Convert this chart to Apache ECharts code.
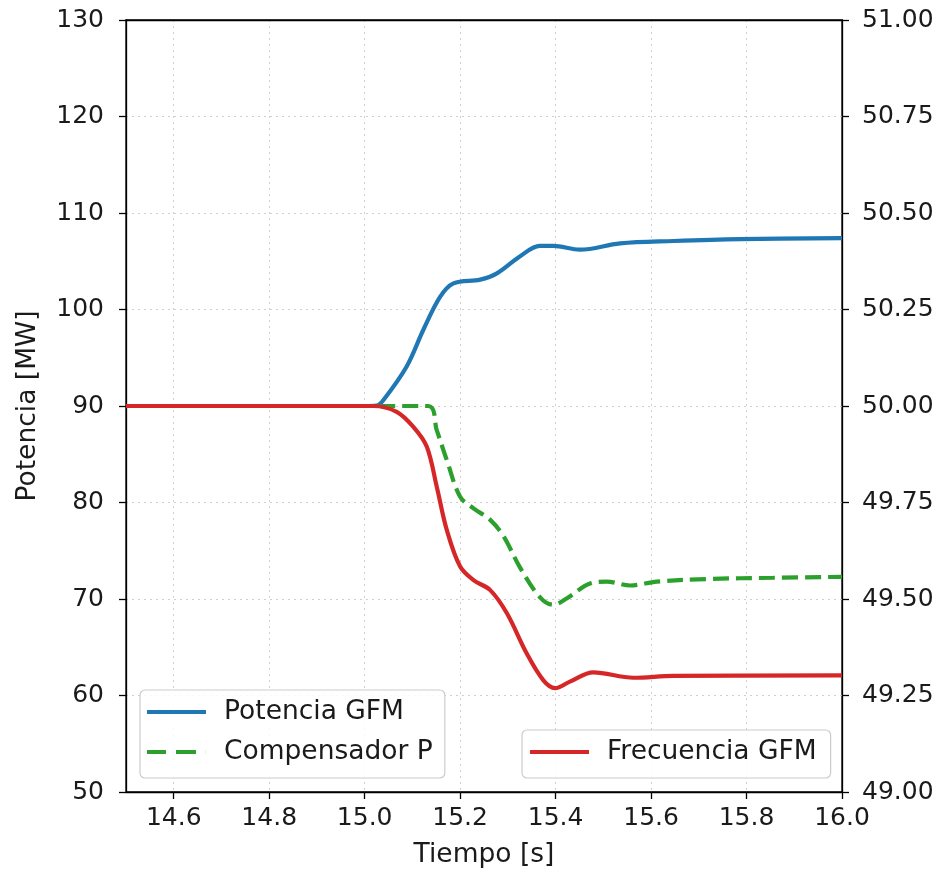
<!DOCTYPE html>
<html>
<head>
<meta charset="utf-8">
<script src="https://cdn.jsdelivr.net/npm/echarts@6/dist/echarts.min.js"></script>
<style>
html,body{margin:0;padding:0;background:#fff;}
#chart{width:943px;height:874px;}
</style>
</head>
<body>
<div id="chart"></div>
<script>
// ---- data ----
const xTicks = [14.6, 14.8, 15.0, 15.2, 15.4, 15.6, 15.8, 16.0];

const potenciaT = [14.5, 15.0, 15.025, 15.039, 15.088, 15.123, 15.158, 15.186, 15.242, 15.277, 15.325, 15.367, 15.395, 15.451, 15.535, 15.647, 15.786, 16.0];
const potenciaV = [90, 90, 90.05, 90.6, 94.1, 97.9, 101.3, 102.7, 103.1, 103.75, 105.5, 106.6, 106.6, 106.2, 106.85, 107.1, 107.3, 107.4];

const compT = [14.5, 15.133, 15.151, 15.172, 15.2, 15.228, 15.263, 15.291, 15.325, 15.367, 15.395, 15.423, 15.472, 15.507, 15.556, 15.612, 15.717, 15.856, 16.0];
const compV = [90, 90, 87.5, 84.4, 80.6, 79.4, 78.2, 76.5, 73.3, 70.2, 69.4, 70.05, 71.6, 71.8, 71.4, 71.8, 72.07, 72.2, 72.3];

const freqT = [14.5, 15.0, 15.018, 15.067, 15.102, 15.13, 15.151, 15.172, 15.2, 15.228, 15.263, 15.298, 15.339, 15.374, 15.399, 15.43, 15.479, 15.563, 15.647, 16.0];
const freqV = [50, 50, 50.0, 49.985, 49.946, 49.895, 49.791, 49.679, 49.584, 49.549, 49.523, 49.463, 49.36, 49.29, 49.269, 49.286, 49.31, 49.296, 49.301, 49.302];

const zip = (a, b) => a.map((t, i) => [t, b[i]]);

const FONT = 'DejaVu Sans';
const TXT = '#1a1a1a';
const LW = 4.2;
const SOLID_ICON = 'path://M0,0 H59 V4 H0 Z';
const DASH_ICON = 'path://M0,0 H19 V4 H0 Z M29,0 H49 V4 H29 Z M58.9,0 H59 V4 H58.9 Z';
const chart = echarts.init(document.getElementById('chart'), null, {renderer: 'canvas'});

const legendCommon = {
  orient: 'vertical',
  itemWidth: 59,
  itemHeight: 4.2,
  itemGap: 12,
  backgroundColor: 'rgba(255,255,255,0.85)',
  borderColor: '#cccccc',
  borderWidth: 1.2,
  borderRadius: 5,
  textStyle: {fontFamily: FONT, fontSize: 26.5, color: TXT, lineHeight: 28, padding: [0, 0, 0, 13]}
};

chart.setOption({
  animation: false,
  backgroundColor: '#ffffff',
  grid: {left: 126, right: 101, top: 20, bottom: 82, show: true, borderColor: '#000', borderWidth: 1.3, backgroundColor: 'transparent'},
  legend: [
    Object.assign({}, legendCommon, {
      data: [{name: 'Potencia GFM', icon: SOLID_ICON}, {name: 'Compensador P', icon: DASH_ICON}],
      left: 140, top: 690, padding: [8, 12, 12, 7]
    }),
    Object.assign({}, legendCommon, {
      data: [{name: 'Frecuencia GFM', icon: SOLID_ICON}],
      left: 522, top: 730, padding: [8, 14, 12, 8]
    })
  ],
  xAxis: [
    {
      type: 'value', min: 14.5, max: 16.0,
      name: 'Tiempo [s]', nameLocation: 'middle', nameGap: 50,
      nameTextStyle: {fontFamily: FONT, fontSize: 26.5, color: TXT},
      axisLine: {show: true, lineStyle: {color: '#000', width: 1.3}},
      axisTick: {show: true, inside: false, length: 7, customValues: xTicks, lineStyle: {color: '#000', width: 1.3}},
      axisLabel: {customValues: xTicks, margin: 14, fontFamily: FONT, fontSize: 25, color: TXT, formatter: v => v.toFixed(1)},
      splitLine: {show: true, lineStyle: {color: '#d0d0d0', type: [2, 4], width: 1}}
    },
    {
      type: 'value', min: 14.5, max: 16.0, position: 'top',
      axisLine: {show: true, onZero: false, lineStyle: {color: '#000', width: 1.3}},
      axisTick: {show: false}, axisLabel: {show: false}, splitLine: {show: false}
    }
  ],
  yAxis: [
    {
      type: 'value', min: 50, max: 130, interval: 10, position: 'left',
      name: 'Potencia [MW]', nameLocation: 'middle', nameGap: 84, nameRotate: 90,
      nameTextStyle: {fontFamily: FONT, fontSize: 26.5, color: TXT},
      axisLine: {show: true, lineStyle: {color: '#000', width: 1.3}},
      axisTick: {show: true, inside: false, length: 7, lineStyle: {color: '#000', width: 1.3}},
      axisLabel: {margin: 22, fontFamily: FONT, fontSize: 25, color: TXT},
      splitLine: {show: true, lineStyle: {color: '#d0d0d0', type: [2, 4], width: 1}}
    },
    {
      type: 'value', min: 49, max: 51, interval: 0.25, position: 'right',
      axisLine: {show: true, lineStyle: {color: '#000', width: 1.3}},
      axisTick: {show: true, inside: false, length: 7, lineStyle: {color: '#000', width: 1.3}},
      axisLabel: {margin: 20, fontFamily: FONT, fontSize: 25, color: TXT, formatter: v => v.toFixed(2)},
      splitLine: {show: false}
    }
  ],
  series: [
    {
      name: 'Potencia GFM', type: 'line', xAxisIndex: 0, yAxisIndex: 0, data: zip(potenciaT, potenciaV),
      symbol: 'none', smooth: 0.35,
      lineStyle: {color: '#1f77b4', width: LW}, itemStyle: {color: '#1f77b4'}, z: 3
    },
    {
      name: 'Compensador P', type: 'line', xAxisIndex: 0, yAxisIndex: 0, data: zip(compT, compV),
      symbol: 'none', smooth: 0.35,
      lineStyle: {color: '#2ca02c', width: LW, type: [16, 7]}, itemStyle: {color: '#2ca02c'}, z: 4
    },
    {
      name: 'Frecuencia GFM', type: 'line', xAxisIndex: 0, yAxisIndex: 1, data: zip(freqT, freqV),
      symbol: 'none', smooth: 0.35,
      lineStyle: {color: '#d62728', width: LW}, itemStyle: {color: '#d62728'}, z: 5
    }
  ]
});
</script>
</body>
</html>
